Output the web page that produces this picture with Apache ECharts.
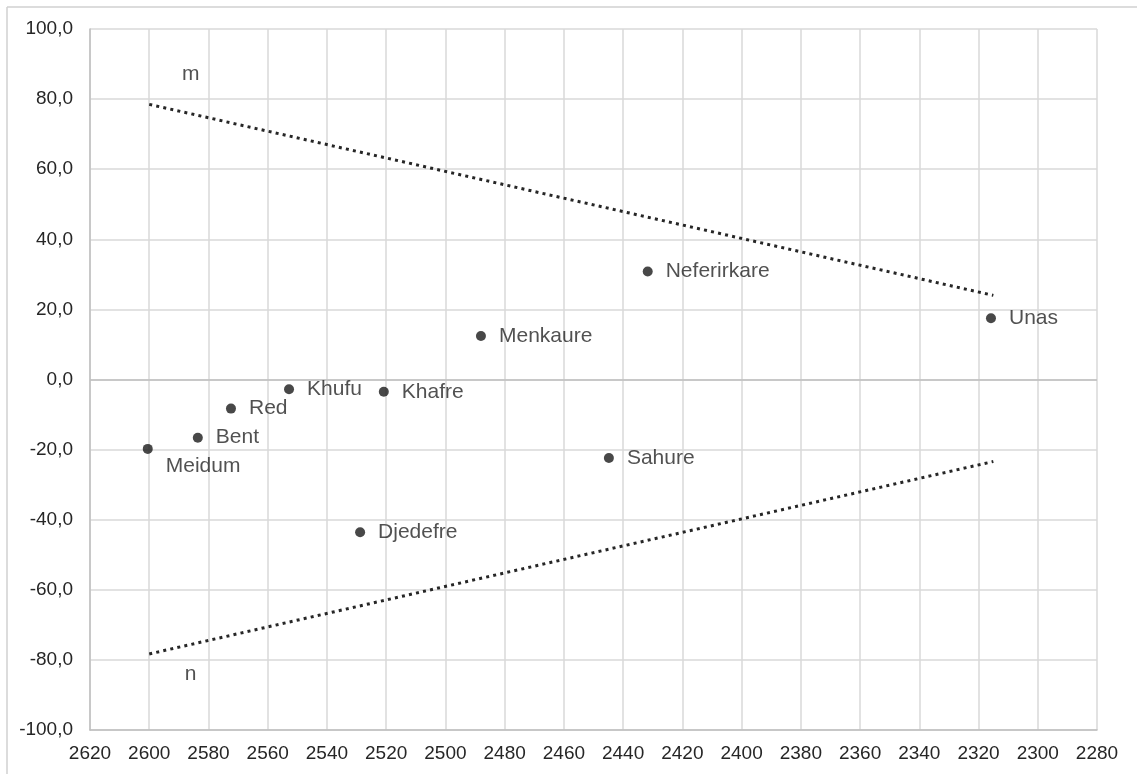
<!DOCTYPE html>
<html><head><meta charset="utf-8">
<script src="https://cdn.jsdelivr.net/npm/echarts@6/dist/echarts.min.js"></script>
<style>html,body{margin:0;padding:0;background:#fff}#c{width:1137px;height:774px}</style>
</head><body><div id="c"></div>
<script>
const names = ['Meidum','Bent','Red','Khufu','Khafre','Djedefre','Menkaure','Sahure','Neferirkare','Unas'];
const years = [2600.5, 2583.6, 2572.4, 2552.8, 2520.8, 2528.8, 2488, 2444.8, 2431.7, 2315.8];
const values = [-19.8, -16.6, -8.3, -2.8, -3.5, -43.6, 12.4, -22.4, 30.8, 17.5];
const lineM = [[2600, 78.5], [2315, 24.0]];
const lineN = [[2600, -78.3], [2315, -23.4]];
const lineLabels = [['m', 2586, 87], ['n', 2586, -84]];
const xTicks = {min: 2280, max: 2620, interval: 20};
const yTicks = {min: -100, max: 100, interval: 20};

const FONT = 'Liberation Sans, Arial, sans-serif';
const pts = names.map((n, i) => ({
  value: [years[i], values[i]], name: n,
  label: n === 'Meidum' ? {position: 'right', offset: [0, 17]} : undefined
}));

const chart = echarts.init(document.getElementById('c'));
chart.setOption({
  animation: false,
  backgroundColor: '#fff',
  textStyle: {fontFamily: FONT},
  graphic: [
    {type: 'line', shape: {x1: 7, y1: 7, x2: 1137, y2: 7}, style: {stroke: '#d0d0d0', lineWidth: 1.5}},
    {type: 'line', shape: {x1: 7, y1: 7, x2: 7, y2: 774}, style: {stroke: '#d0d0d0', lineWidth: 1.5}}
  ],
  grid: {left: 90, right: 40, top: 29, bottom: 44, containLabel: false},
  xAxis: {
    type: 'value', inverse: true, min: xTicks.min, max: xTicks.max, interval: xTicks.interval,
    axisLine: {show: true, onZero: false, lineStyle: {color: '#bfbfbf', width: 1.5}},
    axisTick: {show: false},
    splitLine: {show: true, lineStyle: {color: '#d9d9d9', width: 1.5}},
    axisLabel: {color: '#262626', fontSize: 19, margin: 14, fontFamily: FONT,
      formatter: v => String(v)}
  },
  yAxis: {
    type: 'value', min: yTicks.min, max: yTicks.max, interval: yTicks.interval,
    axisLine: {show: true, lineStyle: {color: '#bfbfbf', width: 1.5}},
    axisTick: {show: false},
    splitLine: {show: true, lineStyle: {color: '#d9d9d9', width: 1.5}},
    axisLabel: {color: '#262626', fontSize: 19, margin: 17, fontFamily: FONT,
      formatter: v => v.toFixed(1).replace('.', ',')}
  },
  series: [
    {
      type: 'line', data: lineM, symbol: 'none', silent: true,
      lineStyle: {color: '#262626', width: 3, type: [3, 4.2], cap: 'butt'},
      markLine: {silent: true, symbol: 'none', label: {show: false},
        lineStyle: {color: '#bfbfbf', width: 1.5, type: 'solid'}, data: [{yAxis: 0}]}
    },
    {
      type: 'line', data: lineN, symbol: 'none', silent: true,
      lineStyle: {color: '#262626', width: 3, type: [3, 4.2], cap: 'butt'}
    },
    {
      type: 'scatter', data: pts, symbol: 'circle', symbolSize: 10,
      itemStyle: {color: '#1a1a1a'},
      label: {show: true, position: 'right', distance: 13, formatter: p => p.name,
        color: '#262626', fontSize: 21, fontFamily: FONT},
      z: 5
    },
    {
      type: 'scatter', symbolSize: 0, silent: true,
      data: lineLabels.map(l => ({value: [l[1], l[2]], name: l[0]})),
      label: {show: true, position: 'inside', formatter: p => p.name,
        color: '#262626', fontSize: 21, fontFamily: FONT}
    }
  ]
});
</script></body></html>
